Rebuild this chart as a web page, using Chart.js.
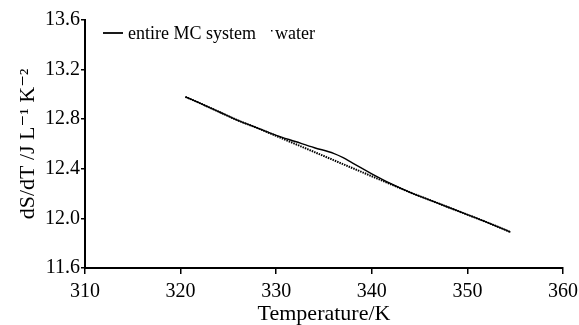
<!DOCTYPE html>
<html>
<head>
<meta charset="utf-8">
<script src="https://cdn.jsdelivr.net/npm/chart.js@4.4.0/dist/chart.umd.min.js"></script>
<style>
html,body{margin:0;padding:0;background:#fff;}
#wrap{position:relative;width:579px;height:325px;}
</style>
</head>
<body>
<div id="wrap"><canvas id="c" width="579" height="325"></canvas></div>
<script>
const temps   = [320.5, 322, 324, 326, 328, 330, 332, 334, 336, 337, 338, 340, 342, 344, 346, 348, 350, 352, 354.5];
const mcVals  = [12.98, 12.93, 12.86, 12.79, 12.73, 12.67, 12.62, 12.57, 12.525, 12.49, 12.445, 12.36, 12.28, 12.21, 12.15, 12.09, 12.03, 11.97, 11.89];
const waterVals=[12.98, 12.93, 12.86, 12.79, 12.73, 12.665, 12.60, 12.535, 12.47, 12.437, 12.405, 12.34, 12.275, 12.21, 12.15, 12.09, 12.03, 11.97, 11.89];
const xTicks = [310, 320, 330, 340, 350, 360];
const yTicks = [11.6, 12.0, 12.4, 12.8, 13.2, 13.6];
const seriesNames = ['entire MC system', 'water'];

const serif = "'Liberation Serif', 'DejaVu Serif', serif";

const legendPlugin = {
  id: 'inlineLegend',
  afterDraw(chart) {
    const ctx = chart.ctx;
    ctx.save();
    ctx.strokeStyle = '#000';
    ctx.lineWidth = 1.8;
    ctx.beginPath();
    ctx.moveTo(103, 33);
    ctx.lineTo(123, 33);
    ctx.stroke();
    ctx.fillStyle = '#000';
    ctx.font = "18px " + serif;
    ctx.textBaseline = 'middle';
    ctx.fillText(seriesNames[0], 128, 34);
    const w = ctx.measureText(seriesNames[0]).width;
    ctx.fillRect(128 + w + 15, 30, 1.5, 1.5);
    ctx.fillText(seriesNames[1], 128 + w + 19, 34);
    ctx.restore();
  }
};

new Chart(document.getElementById('c'), {
  type: 'line',
  data: {
    datasets: [
      {
        label: seriesNames[1],
        data: temps.map((t, i) => ({x: t, y: waterVals[i]})),
        borderColor: '#000',
        borderWidth: 2,
        borderDash: [1.5, 1],
        pointRadius: 0,
        tension: 0.4,
        cubicInterpolationMode: 'monotone',
        fill: false
      },
      {
        label: seriesNames[0],
        data: temps.map((t, i) => ({x: t, y: mcVals[i]})),
        borderColor: '#000',
        borderWidth: 1.4,
        pointRadius: 0,
        tension: 0.4,
        cubicInterpolationMode: 'monotone',
        fill: false
      }
    ]
  },
  options: {
    responsive: false,
    animation: false,
    layout: {padding: {top: 20, right: 16, left: 0, bottom: 0}},
    plugins: {legend: {display: false}, tooltip: {enabled: false}},
    scales: {
      x: {
        type: 'linear',
        min: 310, max: 360,
        afterBuildTicks(scale) { scale.ticks = xTicks.map(v => ({value: v})); },
        afterFit(scale) { scale.height = 57; scale.paddingRight = 0; scale.paddingLeft = 0; },
        ticks: {color: '#000', font: {family: serif, size: 20, lineHeight: 1.0}, padding: 8,
                callback: v => String(v)},
        grid: {display: true, drawOnChartArea: false, drawTicks: true, tickLength: 6, color: '#000', lineWidth: 1.5},
        border: {display: true, color: '#000', width: 2},
        title: {display: true, text: 'Temperature/K', color: '#000', font: {family: serif, size: 22, lineHeight: 1.0}, padding: {top: 0, bottom: 0}}
      },
      y: {
        type: 'linear',
        min: 11.6, max: 13.6,
        afterBuildTicks(scale) { scale.ticks = yTicks.map(v => ({value: v})); },
        afterFit(scale) { scale.width = 85; scale.paddingTop = 0; scale.paddingBottom = 0; },
        ticks: {color: '#000', font: {family: serif, size: 20}, padding: 1,
                callback: v => Number(v).toFixed(1)},
        grid: {display: true, drawOnChartArea: false, drawTicks: true, tickLength: 4, color: '#000', lineWidth: 1.5},
        border: {display: true, color: '#000', width: 2},
        title: {display: true, text: 'dS/dT /J L\u207B\u00B9 K\u207B\u00B2', color: '#000', font: {family: serif, size: 22, lineHeight: 1.0}, padding: {top: 17, bottom: 0}}
      }
    }
  },
  plugins: [legendPlugin]
});
</script>
</body>
</html>
